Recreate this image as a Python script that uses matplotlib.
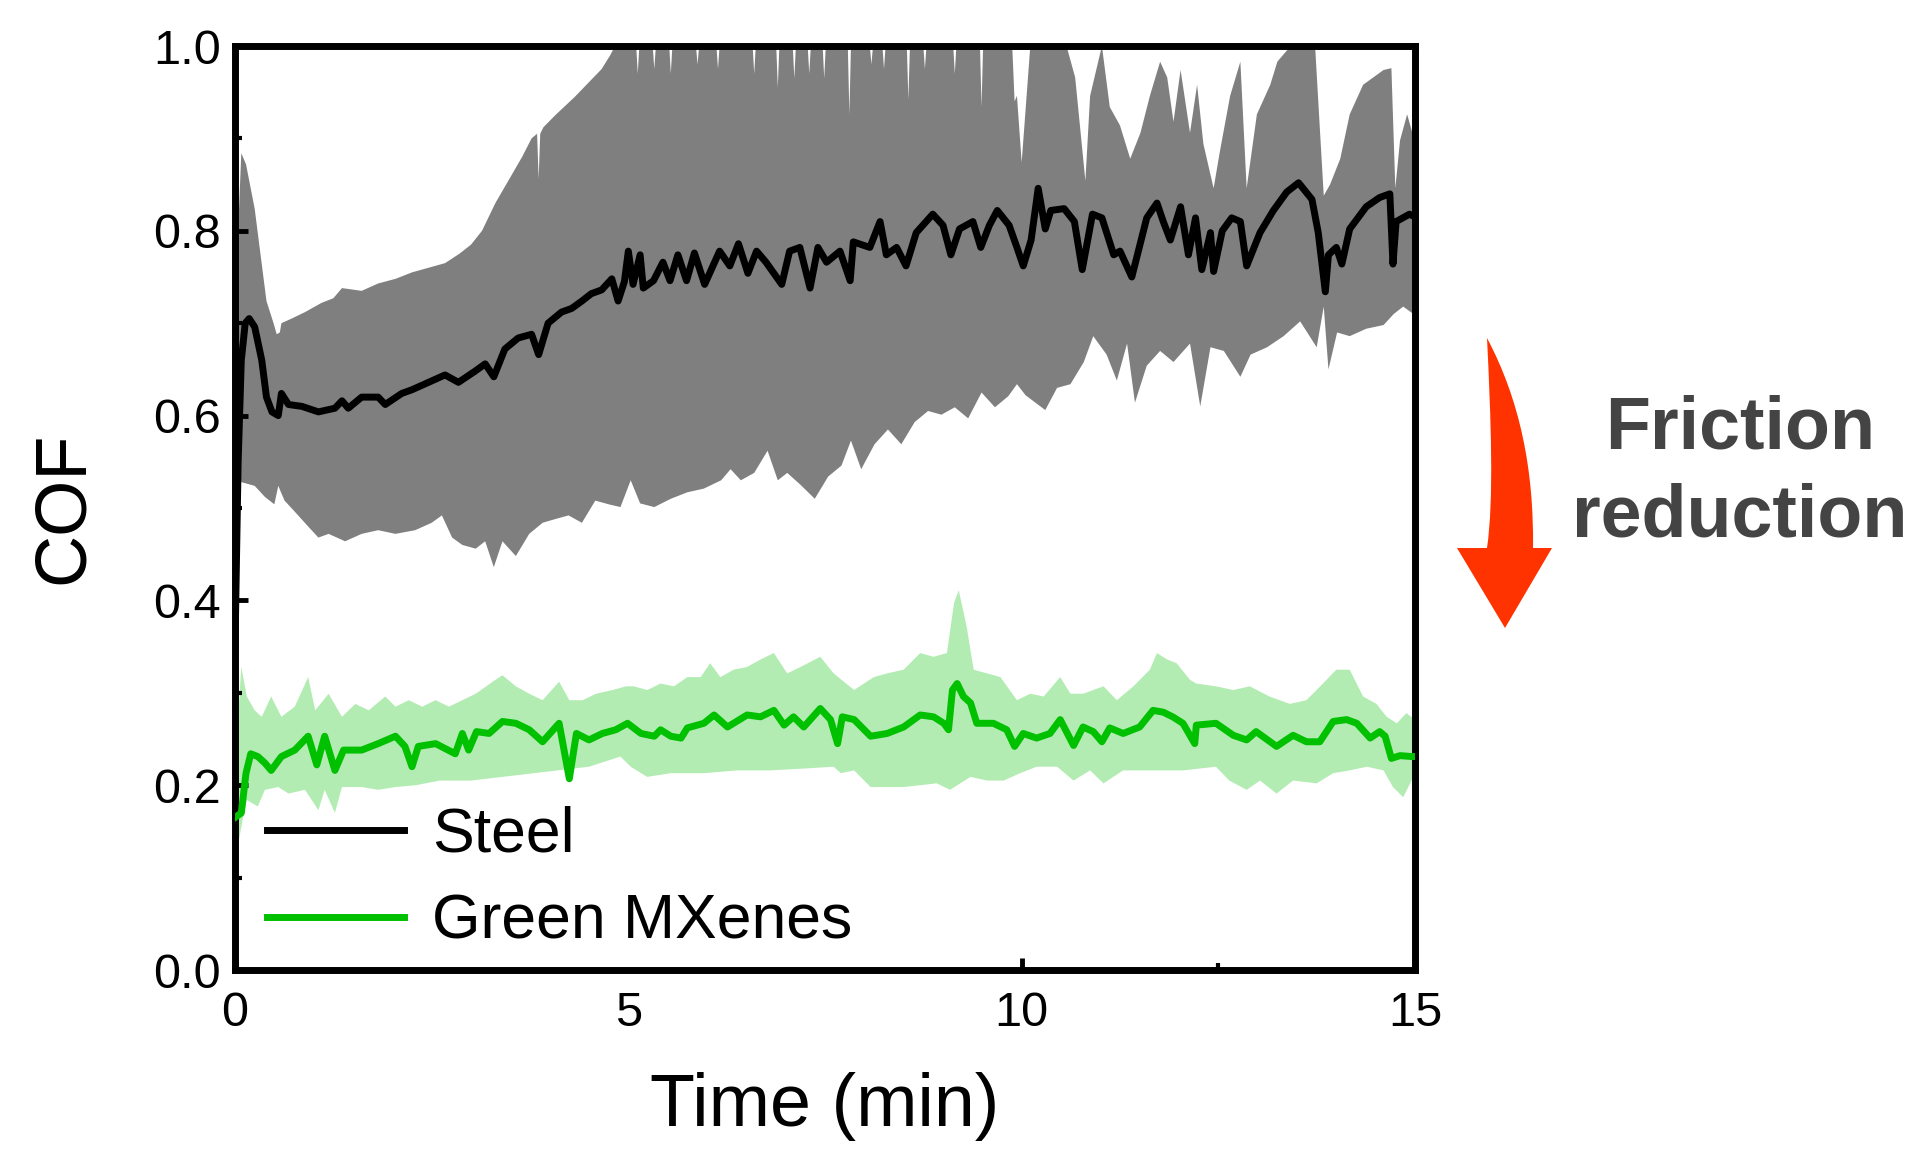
import numpy as np
import matplotlib
matplotlib.use("Agg")
import matplotlib.pyplot as plt
from matplotlib.patches import Rectangle, PathPatch
from matplotlib.path import Path

plt.rcParams['font.family'] = ['Liberation Sans', 'DejaVu Sans']

# Steel: mean COF
steel_t = [0.0, 0.04, 0.08, 0.13, 0.18, 0.25, 0.34, 0.40, 0.47, 0.55, 0.59, 0.68, 0.85,
           1.06, 1.27, 1.36, 1.44, 1.61, 1.82, 1.91, 2.12, 2.25, 2.46, 2.67, 2.84, 3.05,
           3.18, 3.29, 3.43, 3.60, 3.77, 3.86, 3.98, 4.15, 4.28, 4.41, 4.53, 4.66, 4.79,
           4.87, 4.95, 5.00, 5.06, 5.15, 5.19, 5.32, 5.44, 5.53, 5.63, 5.74, 5.84, 5.97,
           6.16, 6.29, 6.40, 6.52, 6.63, 6.75, 6.95, 7.05, 7.18, 7.31, 7.41, 7.52, 7.69,
           7.82, 7.86, 8.07, 8.20, 8.28, 8.41, 8.53, 8.66, 8.87, 9.00, 9.10, 9.21, 9.38,
           9.48, 9.59, 9.69, 9.84, 9.94, 10.02, 10.12, 10.21, 10.30, 10.37, 10.54, 10.67,
           10.77, 10.90, 11.02, 11.17, 11.25, 11.40, 11.59, 11.72, 11.80, 11.89, 12.02,
           12.12, 12.21, 12.29, 12.40, 12.44, 12.55, 12.67, 12.78, 12.86, 13.03, 13.20,
           13.37, 13.52, 13.69, 13.77, 13.86, 13.90, 14.00, 14.07, 14.17, 14.38, 14.55,
           14.68, 14.72, 14.76, 14.93, 15.0]
steel_cof = [0.35, 0.55, 0.66, 0.70, 0.705, 0.696, 0.66, 0.62, 0.604, 0.60, 0.624, 0.612, 0.61,
             0.604, 0.608, 0.616, 0.608, 0.62, 0.62, 0.612, 0.624, 0.628, 0.636, 0.644, 0.636, 0.648,
             0.656, 0.642, 0.672, 0.684, 0.688, 0.666, 0.70, 0.712, 0.716, 0.724, 0.732, 0.736, 0.748,
             0.724, 0.745, 0.778, 0.742, 0.774, 0.738, 0.746, 0.766, 0.746, 0.774, 0.746, 0.776, 0.742,
             0.778, 0.762, 0.786, 0.754, 0.778, 0.766, 0.742, 0.778, 0.782, 0.738, 0.782, 0.766, 0.778,
             0.746, 0.788, 0.782, 0.810, 0.774, 0.782, 0.762, 0.798, 0.818, 0.806, 0.774, 0.802, 0.810,
             0.782, 0.806, 0.822, 0.806, 0.782, 0.762, 0.79, 0.846, 0.802, 0.822, 0.824, 0.810,
             0.758, 0.818, 0.814, 0.774, 0.778, 0.750, 0.814, 0.830, 0.81, 0.79, 0.826,
             0.774, 0.814, 0.758, 0.798, 0.756, 0.80, 0.814, 0.810, 0.762, 0.798, 0.822,
             0.842, 0.852, 0.834, 0.798, 0.734, 0.774, 0.782, 0.764, 0.802, 0.826, 0.836,
             0.840, 0.764, 0.810, 0.818, 0.815]

# Steel: upper edge of the spread
steel_up_t = [0.0, 0.04, 0.08, 0.14, 0.25, 0.34, 0.40, 0.49, 0.53, 0.57, 0.59, 0.72, 0.89,
              1.10, 1.25, 1.36, 1.61, 1.82, 2.04, 2.25, 2.46, 2.67, 2.85, 3.00, 3.14, 3.31,
              3.48, 3.65, 3.77, 3.84, 3.86, 3.88, 3.92, 4.07, 4.32, 4.49, 4.66, 4.77, 4.83,
              5.10, 5.12, 5.14, 5.31, 5.33, 5.35, 5.52, 5.54, 5.56, 5.86, 5.88, 5.90,
              6.12, 6.14, 6.16, 6.58, 6.60, 6.62, 6.88, 6.90, 6.92, 7.09, 7.11, 7.13,
              7.28, 7.30, 7.32, 7.47, 7.49, 7.51, 7.79, 7.81, 7.83, 8.07, 8.09, 8.11,
              8.23, 8.25, 8.27, 8.54, 8.56, 8.58, 8.75, 8.77, 8.79, 9.13, 9.15, 9.17,
              9.47, 9.49, 9.51, 9.88, 9.91, 9.94, 10.00, 10.11, 10.28, 10.57, 10.68, 10.81,
              10.87, 11.02, 11.12, 11.25, 11.38, 11.51, 11.63, 11.76, 11.85, 11.93, 12.02,
              12.14, 12.23, 12.31, 12.44, 12.52, 12.65, 12.78, 12.86, 12.99, 13.16, 13.25,
              13.42, 13.59, 13.73, 13.78, 13.84, 13.92, 14.05, 14.17, 14.34, 14.60, 14.70,
              14.75, 14.81, 14.90, 14.98, 15.0]
steel_up = [0.70, 0.80, 0.884, 0.872, 0.824, 0.764, 0.724, 0.700, 0.688, 0.69, 0.700, 0.705, 0.712,
            0.722, 0.727, 0.738, 0.735, 0.743, 0.748, 0.755, 0.760, 0.765, 0.775, 0.785, 0.800, 0.830,
            0.855, 0.880, 0.900, 0.905, 0.856, 0.905, 0.912, 0.925, 0.945, 0.96, 0.975, 0.99, 1.0,
            1.0, 0.97, 1.0, 1.0, 0.975, 1.0, 1.0, 0.97, 1.0, 1.0, 0.98, 1.0,
            1.0, 0.975, 1.0, 1.0, 0.97, 1.0, 1.0, 0.955, 1.0, 1.0, 0.965, 1.0,
            1.0, 0.97, 1.0, 1.0, 0.965, 1.0, 1.0, 0.926, 1.0, 1.0, 0.98, 1.0,
            1.0, 0.975, 1.0, 1.0, 0.942, 1.0, 1.0, 0.975, 1.0, 1.0, 0.97, 1.0,
            1.0, 0.934, 1.0, 1.0, 0.94, 0.946, 0.874, 1.0, 1.0, 1.0, 0.966, 0.854,
            0.946, 1.0, 0.934, 0.914, 0.878, 0.906, 0.946, 0.983, 0.966, 0.918, 0.974,
            0.906, 0.958, 0.894, 0.846, 0.886, 0.946, 0.983, 0.846, 0.926, 0.958, 0.983,
            1.0, 1.0, 1.0, 0.926, 0.838, 0.850, 0.878, 0.926, 0.958, 0.974, 0.976,
            0.846, 0.898, 0.926, 0.902, 0.90]

# Steel: lower edge of the spread
steel_lo_t = [0.0, 0.05, 0.08, 0.25, 0.38, 0.50, 0.55, 0.63, 0.76, 0.93, 1.06, 1.19, 1.40,
              1.61, 1.82, 2.04, 2.29, 2.50, 2.63, 2.76, 2.89, 3.06, 3.18, 3.29, 3.40, 3.57,
              3.74, 3.91, 4.07, 4.24, 4.41, 4.58, 4.75, 4.90, 5.03, 5.15, 5.33, 5.54, 5.75,
              5.96, 6.18, 6.30, 6.43, 6.60, 6.77, 6.90, 7.02, 7.19, 7.37, 7.54, 7.71, 7.83,
              7.96, 8.13, 8.30, 8.47, 8.64, 8.81, 8.98, 9.15, 9.32, 9.49, 9.66, 9.83, 9.94,
              10.05, 10.30, 10.45, 10.62, 10.79, 10.91, 11.08, 11.21, 11.34, 11.44, 11.59,
              11.76, 11.93, 12.14, 12.27, 12.40, 12.57, 12.78, 12.91, 13.12, 13.33, 13.54,
              13.75, 13.84, 13.90, 14.01, 14.17, 14.38, 14.60, 14.73, 14.85, 14.98, 15.0]
steel_lo = [0.56, 0.53, 0.528, 0.524, 0.512, 0.504, 0.524, 0.508, 0.496, 0.48, 0.468, 0.472, 0.464,
            0.472, 0.476, 0.472, 0.476, 0.484, 0.492, 0.468, 0.46, 0.456, 0.464, 0.436, 0.464, 0.448,
            0.472, 0.484, 0.488, 0.492, 0.484, 0.508, 0.504, 0.501, 0.530, 0.505, 0.501, 0.510, 0.517,
            0.521, 0.530, 0.542, 0.530, 0.538, 0.562, 0.530, 0.538, 0.525, 0.510, 0.534, 0.546, 0.573,
            0.542, 0.569, 0.585, 0.569, 0.593, 0.605, 0.601, 0.609, 0.597, 0.625, 0.609, 0.621, 0.634,
            0.622, 0.606, 0.630, 0.634, 0.658, 0.686, 0.666, 0.638, 0.678, 0.614, 0.654,
            0.670, 0.658, 0.678, 0.610, 0.674, 0.670, 0.642, 0.666, 0.674, 0.686, 0.702,
            0.674, 0.718, 0.650, 0.690, 0.686, 0.694, 0.698, 0.710, 0.718, 0.710, 0.71]

# Green MXenes: mean COF
green_t = [0.0, 0.08, 0.14, 0.20, 0.29, 0.38, 0.46, 0.59, 0.76, 0.93, 1.04, 1.14, 1.27,
           1.38, 1.61, 1.82, 2.04, 2.16, 2.25, 2.33, 2.55, 2.80, 2.89, 2.97, 3.07, 3.23,
           3.40, 3.57, 3.74, 3.91, 4.12, 4.25, 4.34, 4.50, 4.67, 4.84, 4.99, 5.16, 5.33,
           5.41, 5.54, 5.67, 5.75, 5.96, 6.09, 6.26, 6.51, 6.68, 6.85, 6.98, 7.10, 7.23,
           7.44, 7.57, 7.66, 7.72, 7.87, 8.08, 8.29, 8.50, 8.71, 8.88, 9.01, 9.07, 9.12,
           9.18, 9.26, 9.35, 9.43, 9.64, 9.81, 9.91, 10.02, 10.19, 10.36, 10.49, 10.66,
           10.78, 10.91, 11.02, 11.12, 11.29, 11.50, 11.67, 11.80, 11.92, 12.05, 12.20,
           12.22, 12.47, 12.69, 12.86, 12.98, 13.24, 13.45, 13.62, 13.79, 13.96, 14.13,
           14.26, 14.43, 14.55, 14.62, 14.70, 14.81, 14.96, 15.0]
green_cof = [0.165, 0.170, 0.213, 0.234, 0.231, 0.224, 0.216, 0.231, 0.238, 0.253, 0.222, 0.253, 0.216,
             0.238, 0.238, 0.245, 0.253, 0.242, 0.220, 0.242, 0.245, 0.234, 0.256, 0.238, 0.258, 0.256,
             0.269, 0.267, 0.260, 0.247, 0.267, 0.207, 0.256, 0.249, 0.256, 0.260, 0.267, 0.256, 0.253,
             0.260, 0.253, 0.251, 0.262, 0.267, 0.276, 0.263, 0.276, 0.274, 0.281, 0.265, 0.274, 0.263,
             0.283, 0.271, 0.245, 0.274, 0.271, 0.253, 0.256, 0.263, 0.276, 0.274, 0.267, 0.260, 0.303,
             0.310, 0.296, 0.289, 0.267, 0.267, 0.260, 0.242, 0.256, 0.251, 0.256, 0.271, 0.243,
             0.263, 0.258, 0.247, 0.262, 0.256, 0.263, 0.281, 0.279, 0.274, 0.267, 0.245,
             0.265, 0.267, 0.254, 0.249, 0.258, 0.242, 0.254, 0.247, 0.247, 0.269, 0.271,
             0.267, 0.251, 0.258, 0.253, 0.229, 0.232, 0.231, 0.231]

# Green MXenes: upper edge of the spread
green_up_t = [0.0, 0.08, 0.15, 0.25, 0.34, 0.46, 0.59, 0.76, 0.93, 1.02, 1.19, 1.36, 1.53,
              1.70, 1.91, 2.04, 2.21, 2.38, 2.55, 2.72, 2.89, 3.06, 3.31, 3.40, 3.57, 3.74,
              3.91, 4.12, 4.25, 4.42, 4.59, 4.80, 4.97, 5.07, 5.24, 5.41, 5.58, 5.75, 5.92,
              6.04, 6.17, 6.34, 6.51, 6.68, 6.85, 7.02, 7.19, 7.44, 7.61, 7.87, 8.12, 8.29,
              8.50, 8.71, 8.88, 9.05, 9.14, 9.20, 9.30, 9.39, 9.56, 9.73, 9.94, 10.11, 10.28,
              10.49, 10.62, 10.78, 11.04, 11.21, 11.42, 11.63, 11.72, 11.85, 11.97, 12.14,
              12.22, 12.47, 12.69, 12.90, 13.15, 13.41, 13.62, 13.83, 14.00, 14.17, 14.34,
              14.51, 14.64, 14.77, 14.89, 15.0]
green_up = [0.22, 0.328, 0.296, 0.281, 0.274, 0.296, 0.274, 0.285, 0.317, 0.281, 0.299, 0.274, 0.288,
            0.281, 0.296, 0.285, 0.292, 0.285, 0.292, 0.285, 0.292, 0.299, 0.314, 0.319, 0.307, 0.299,
            0.292, 0.312, 0.292, 0.292, 0.299, 0.303, 0.307, 0.307, 0.303, 0.310, 0.307, 0.317, 0.317,
            0.332, 0.317, 0.325, 0.328, 0.336, 0.343, 0.321, 0.328, 0.339, 0.321, 0.303, 0.317, 0.321,
            0.325, 0.343, 0.339, 0.343, 0.397, 0.411, 0.372, 0.325, 0.321, 0.317, 0.292, 0.299, 0.296,
            0.317, 0.299, 0.299, 0.307, 0.292, 0.307, 0.325, 0.343, 0.336, 0.332, 0.314,
            0.310, 0.307, 0.303, 0.307, 0.296, 0.288, 0.292, 0.310, 0.325, 0.325, 0.296,
            0.288, 0.274, 0.267, 0.278, 0.271]

# Green MXenes: lower edge of the spread
green_lo_t = [0.0, 0.04, 0.08, 0.15, 0.29, 0.38, 0.55, 0.68, 0.89, 1.06, 1.14, 1.27, 1.36,
              1.61, 1.82, 2.04, 2.30, 2.60, 3.00, 3.50, 4.00, 4.50, 4.90, 5.03, 5.24, 5.54,
              5.96, 6.38, 6.81, 7.23, 7.61, 7.70, 7.87, 8.08, 8.50, 8.92, 9.09, 9.35, 9.56,
              9.77, 9.98, 10.19, 10.45, 10.66, 10.87, 11.04, 11.29, 11.63, 12.05, 12.47,
              12.64, 12.86, 13.03, 13.24, 13.45, 13.75, 13.96, 14.17, 14.39, 14.60, 14.72,
              14.85, 14.98, 15.0]
green_lo = [0.15, 0.135, 0.155, 0.184, 0.177, 0.195, 0.198, 0.191, 0.195, 0.173, 0.195, 0.170, 0.198,
            0.198, 0.195, 0.198, 0.20, 0.205, 0.205, 0.21, 0.215, 0.22, 0.231, 0.220, 0.209, 0.213,
            0.213, 0.216, 0.216, 0.218, 0.220, 0.213, 0.216, 0.198, 0.198, 0.202, 0.195, 0.209, 0.205,
            0.205, 0.213, 0.220, 0.220, 0.205, 0.216, 0.202, 0.216, 0.216, 0.216, 0.220,
            0.205, 0.195, 0.205, 0.191, 0.205, 0.202, 0.213, 0.216, 0.220, 0.216, 0.198,
            0.187, 0.209, 0.21]

labels = ["Steel", "Green MXenes"]

W, H = 1918, 1152
fig = plt.figure(figsize=(W / 100, H / 100), dpi=100)
ax = fig.add_axes([235 / W, 1 - 970 / H, 1180 / W, 924 / H])

# spread bands
ax.fill(np.concatenate([steel_up_t, steel_lo_t[::-1]]),
        np.concatenate([steel_up, steel_lo[::-1]]),
        color='#7f7f7f', lw=0, zorder=1)
ax.fill(np.concatenate([green_up_t, green_lo_t[::-1]]),
        np.concatenate([green_up, green_lo[::-1]]),
        color='#b3ecb3', lw=0, zorder=1)

# white background behind the legend text
ax.add_patch(Rectangle((0.151, 0.0), 0.387, 0.198, transform=ax.transAxes,
                       facecolor='white', edgecolor='none', zorder=2))

ax.plot(steel_t, steel_cof, color='black', lw=5, label=labels[0], zorder=3)
ax.plot(green_t, green_cof, color='#00c000', lw=5, label=labels[1], zorder=3)

ax.set_xlim(0, 15)
ax.set_ylim(0, 1.0)
ax.set_xticks([0, 5, 10, 15])
ax.set_xticks([2.5, 7.5, 12.5], minor=True)
ax.set_yticks([0.0, 0.2, 0.4, 0.6, 0.8, 1.0])
ax.set_yticklabels(['0.0', '0.2', '0.4', '0.6', '0.8', '1.0'])
ax.set_yticks([0.1, 0.3, 0.5, 0.7, 0.9], minor=True)

for s in ax.spines.values():
    s.set_linewidth(5)
ax.tick_params(which='major', direction='in', length=9, width=3.5, labelsize=35)
ax.tick_params(which='minor', direction='in', length=5, width=3)
ax.tick_params(axis='x', which='major', pad=15)
ax.tick_params(axis='y', which='major', pad=10)

ax.set_xlabel("Time (min)", fontsize=53, labelpad=26)
ax.set_ylabel("COF", fontsize=52, labelpad=40)

ax.legend(loc='lower left', bbox_to_anchor=(0.027, 0.02), frameon=False, fontsize=45,
          handlelength=2.2, handletextpad=0.45, labelspacing=0.45, borderpad=0,
          borderaxespad=0)

# curved arrow + note on the right
arrow_px = [(1487, 338), (1491, 420), (1494, 500), (1487, 548), (1457, 548),
            (1505, 628), (1552, 548), (1533, 548), (1534, 470), (1520, 400),
            (1487, 338), (1487, 338)]
codes = [Path.MOVETO, Path.CURVE4, Path.CURVE4, Path.CURVE4, Path.LINETO,
         Path.LINETO, Path.LINETO, Path.LINETO, Path.CURVE4, Path.CURVE4,
         Path.CURVE4, Path.CLOSEPOLY]
verts = [(x / W, 1 - y / H) for x, y in arrow_px]
fig.patches.append(PathPatch(Path(verts, codes), transform=fig.transFigure,
                             facecolor='#ff3300', edgecolor='none'))

fig.text(1740 / W, 1 - 473 / H, "Friction\nreduction", ha='center', va='center',
         fontsize=53, fontweight='bold', color='#444444', linespacing=1.35)

fig.savefig("out.png", dpi=100)
